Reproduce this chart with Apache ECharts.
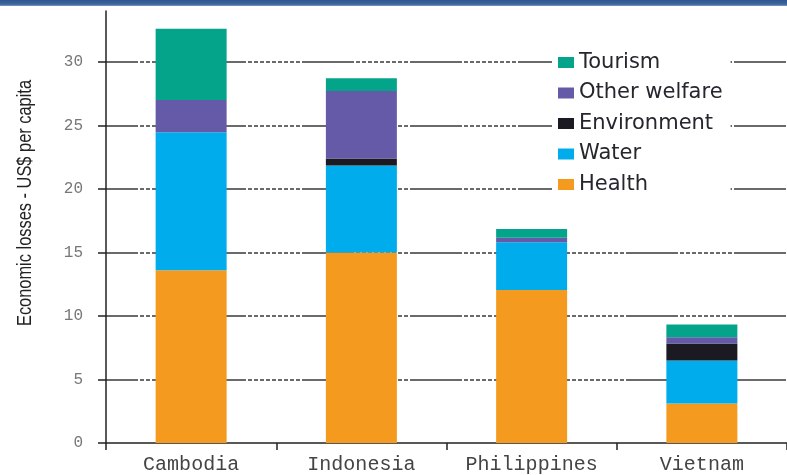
<!DOCTYPE html>
<html>
<head>
<meta charset="utf-8">
<script src="https://cdn.jsdelivr.net/npm/echarts@6/dist/echarts.min.js"></script>
<style>
html,body{margin:0;padding:0;background:#fff;}
#chart{width:787px;height:475px;}
</style>
</head>
<body>
<div id="chart"></div>
<script>
const categories = ['Cambodia', 'Indonesia', 'Philippines', 'Vietnam'];
const health = [13.6, 15.0, 12.05, 3.1];
const water = [10.85, 6.85, 3.75, 3.4];
const environment = [0, 0.55, 0, 1.33];
const otherWelfare = [2.55, 5.3, 0.35, 0.5];
const tourism = [5.6, 1.0, 0.7, 1.0];
const yTicks = [0, 5, 10, 15, 20, 25, 30];
const legendOrder = ['Tourism', 'Other welfare', 'Environment', 'Water', 'Health'];
const yTitle = 'Economic losses - US$ per capita';

const colors = {
  'Health': '#F49B1F',
  'Water': '#00ACEB',
  'Environment': '#1B1A22',
  'Other welfare': '#655AA8',
  'Tourism': '#04A48B'
};

const gridDash = [52, 2, 4, 2, 4, 2, 4, 2, 4, 2, 4, 2, 4, 2, 4, 2, 4, 2, 4, 2];

function bar(name, data) {
  return {
    name: name,
    type: 'bar',
    stack: 'total',
    barWidth: 71,
    data: data,
    itemStyle: { color: colors[name] }
  };
}

const chart = echarts.init(document.getElementById('chart'));
chart.setOption({
  animation: false,
  backgroundColor: '#ffffff',
  grid: { left: 106, width: 688, top: 11, bottom: 30.5, containLabel: false },
  legend: {
    data: legendOrder,
    orient: 'vertical',
    left: 552,
    top: 44,
    padding: [8, 8, 8, 6],
    backgroundColor: '#ffffff',
    icon: 'rect',
    itemWidth: 16,
    itemHeight: 11,
    itemGap: 9.5,
    textStyle: { fontFamily: 'DejaVu Sans', fontSize: 21, color: '#26262e', lineHeight: 20 }
  },
  xAxis: {
    type: 'category',
    data: categories,
    axisLine: { lineStyle: { color: '#222', width: 1.5 } },
    axisTick: { show: true, length: 7, lineStyle: { color: '#222', width: 1.5 } },
    axisLabel: { interval: 0, fontFamily: 'Liberation Mono', fontSize: 20, color: '#444', margin: 12 }
  },
  yAxis: {
    type: 'value',
    min: 0,
    max: 34,
    interval: 5,
    axisLine: { show: true, lineStyle: { color: '#222', width: 1.5 } },
    axisTick: { show: true, length: 8, customValues: yTicks, lineStyle: { color: '#222', width: 1.5 } },
    axisLabel: { customValues: yTicks, fontFamily: 'Liberation Mono', fontSize: 16, color: '#777', margin: 23 },
    splitLine: {
      show: true,
      showMinLine: false,
      lineStyle: { color: '#3a3a3a', width: 1.5, type: gridDash, dashOffset: 20 }
    }
  },
  graphic: [
    {
      type: 'rect',
      left: 0, top: 0, z: 100,
      shape: { width: 787, height: 6 },
      style: {
        fill: new echarts.graphic.LinearGradient(0, 0, 0, 1, [
          { offset: 0, color: '#2f568f' },
          { offset: 0.7, color: '#3d649b' },
          { offset: 1, color: '#7f9cc4' }
        ])
      }
    },
    {
      type: 'text',
      x: 25, y: 203,
      rotation: Math.PI / 2,
      scaleX: 0.82,
      z: 50,
      style: {
        text: yTitle,
        font: '20px "Liberation Sans", sans-serif',
        fill: '#222',
        align: 'center',
        verticalAlign: 'middle',
        textAlign: 'center',
        textVerticalAlign: 'middle'
      }
    }
  ],
  series: [
    bar('Health', health),
    bar('Water', water),
    bar('Environment', environment),
    bar('Other welfare', otherWelfare),
    bar('Tourism', tourism)
  ]
});
</script>
</body>
</html>
